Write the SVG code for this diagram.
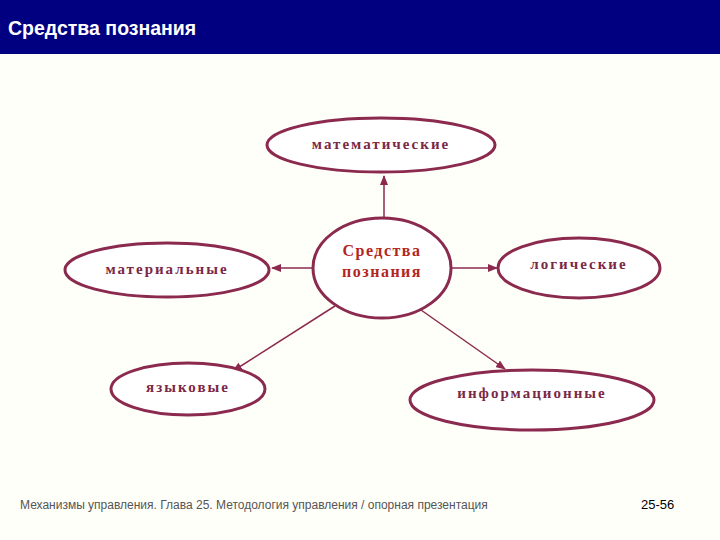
<svg xmlns="http://www.w3.org/2000/svg" width="720" height="540" viewBox="0 0 720 540">
<defs>
<marker id="ah" markerWidth="10" markerHeight="8" refX="9" refY="4" orient="auto" markerUnits="userSpaceOnUse">
<path d="M0,0 L10,4 L0,8 Z" fill="#8b2a4e"/>
</marker>
<style>
.node ellipse{fill:#ffffff;stroke:#8b2a4e;stroke-width:3}
.lbl{font-family:"Liberation Serif","DejaVu Serif",serif;font-weight:bold;font-size:15px;fill:#7a2846;text-anchor:middle;letter-spacing:2px}
.ctr{fill:#b3261e;font-size:16px;letter-spacing:1.5px}
.conn line{stroke:#8b2a4e;stroke-width:1.5;marker-end:url(#ah)}
</style>
</defs>
<rect width="720" height="540" fill="#fffffa"/>
<rect x="0" y="0" width="720" height="54" fill="#000080"/>
<text x="8" y="35" font-family="Liberation Sans, Arial, sans-serif" font-weight="bold" font-size="19.5" fill="#ffffff">Средства познания</text>
<g id="connectors" class="conn">
<line x1="384" y1="219" x2="384" y2="176"/>
<line x1="313" y1="268" x2="272" y2="268"/>
<line x1="452" y1="268" x2="497" y2="268"/>
<line x1="335" y1="306" x2="233" y2="371"/>
<line x1="421" y1="310" x2="505" y2="369"/>
</g>
<g id="n-math" class="node"><ellipse cx="381" cy="145" rx="114" ry="27"/><text class="lbl" x="381" y="149">математические</text></g>
<g id="n-mat" class="node"><ellipse cx="167" cy="270" rx="102" ry="27"/><text class="lbl" x="167" y="274">материальные</text></g>
<g id="n-center" class="node"><ellipse cx="382" cy="268" rx="69" ry="50"/><text class="lbl ctr" x="382" y="256">Средства</text><text class="lbl ctr" x="382" y="277">познания</text></g>
<g id="n-log" class="node"><ellipse cx="579" cy="268" rx="81" ry="30"/><text class="lbl" x="579" y="269">логические</text></g>
<g id="n-lang" class="node"><ellipse cx="188" cy="389" rx="77" ry="26"/><text class="lbl" x="188" y="392">языковые</text></g>
<g id="n-info" class="node"><ellipse cx="532" cy="400" rx="122" ry="30"/><text class="lbl" x="532" y="398">информационные</text></g>
<text x="20" y="509" font-family="Liberation Sans, Arial, sans-serif" font-size="12" fill="#555555">Механизмы управления. Глава 25. Методология управления / опорная презентация</text>
<text x="641" y="509" font-family="Liberation Sans, Arial, sans-serif" font-size="13" fill="#000000">25-56</text>
</svg>
